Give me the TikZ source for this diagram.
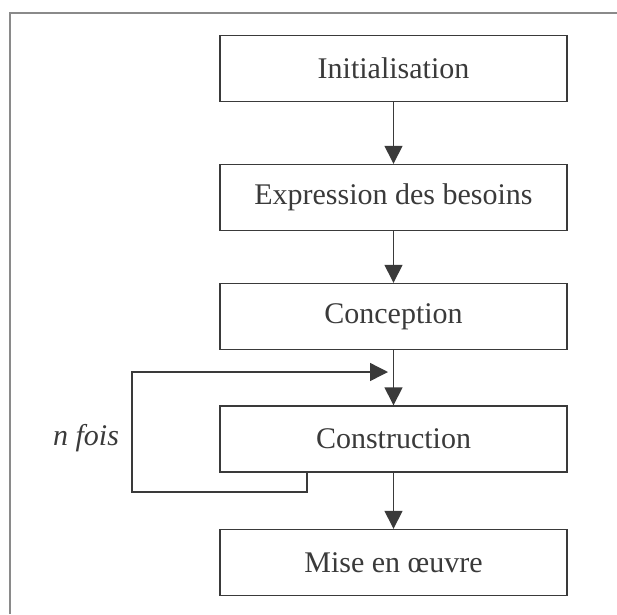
\documentclass[tikz,border=0pt]{standalone}
\usepackage{fontspec}
\setmainfont{Liberation Serif}
\usetikzlibrary{arrows.meta}
\definecolor{ink}{HTML}{3A3A3A}
\definecolor{frame}{HTML}{8A8A8A}
\tikzset{
  stepbox/.style={draw=ink, line width=1.4pt, minimum width=347pt, minimum height=66pt, inner sep=0pt, text=ink, font=\fontsize{30}{34}\selectfont},
  flow/.style={draw=ink, line width=1.4pt, -{Triangle[length=18pt,width=18pt]}},
}
\begin{document}
\begin{tikzpicture}[x=1pt,y=-1pt]
\useasboundingbox (0,0) rectangle (617,614);
\draw[frame, line width=2pt] (10,614) -- (10,13) -- (617,13);
\node[stepbox] (init) at (393.5,68.5) {Initialisation};
\node[stepbox] (expr) at (393.5,197.5) {Expression des besoins};
\node[stepbox] (conc) at (393.5,316.5) {Conception};
\node[stepbox] (cons) at (393.5,439) {Construction};
\node[stepbox] (mise) at (393.5,562.5) {Mise en œuvre};
\draw[flow] (init) -- (expr);
\draw[flow] (expr) -- (conc);
\draw[flow] (conc) -- (cons);
\draw[flow] (cons) -- (mise);
\coordinate (l1) at (307,492);
\coordinate (l2) at (132,492);
\coordinate (l3) at (132,372);
\coordinate (l4) at (388,372);
\draw[flow] (cons.south -| l1) -- (l1) -- (l2) -- (l3) -- (l4);
\node[text=ink, font=\fontsize{30}{34}\selectfont\itshape] (nfois) at (86,438) {n fois};
\end{tikzpicture}
\end{document}
